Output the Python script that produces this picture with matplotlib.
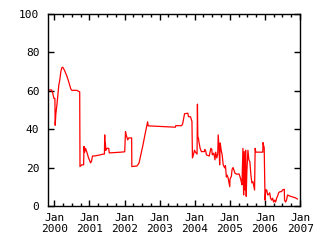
import matplotlib
matplotlib.use("Agg")
import matplotlib.pyplot as plt
import matplotlib.dates as mdates
import pandas as pd

dates = [
    "1999-10-28", "1999-12-05", "1999-12-16", "1999-12-29", "2000-01-08",
    "2000-01-11", "2000-01-18", "2000-01-29", "2000-02-08", "2000-02-18",
    "2000-02-28", "2000-03-10", "2000-03-20", "2000-03-30", "2000-04-15",
    "2000-05-11", "2000-05-31", "2000-06-21", "2000-07-01", "2000-08-22",
    "2000-09-22", "2000-09-25", "2000-10-12", "2000-11-02", "2000-11-05",
    "2000-11-12", "2000-11-22", "2000-12-02", "2000-12-23", "2001-01-13",
    "2001-01-23", "2001-02-02", "2001-02-23", "2001-04-15", "2001-05-26",
    "2001-06-06", "2001-06-09", "2001-06-12", "2001-06-16", "2001-06-21",
    "2001-06-26", "2001-07-06", "2001-07-21", "2001-07-26", "2001-11-24",
    "2002-01-03", "2002-01-11", "2002-01-18", "2002-02-03", "2002-02-13",
    "2002-03-16", "2002-03-18", "2002-05-11", "2002-06-01", "2002-06-21",
    "2002-07-12", "2002-08-01", "2002-08-22", "2002-08-29", "2002-09-04",
    "2003-06-14", "2003-06-17", "2003-08-17", "2003-08-28", "2003-09-17",
    "2003-10-21", "2003-10-28", "2003-11-18", "2003-11-28", "2003-12-03",
    "2003-12-08", "2003-12-18", "2003-12-29", "2004-01-08", "2004-01-25",
    "2004-01-29", "2004-02-02", "2004-02-08", "2004-02-13", "2004-02-26",
    "2004-03-10", "2004-04-10", "2004-04-15", "2004-04-25", "2004-05-01",
    "2004-05-31", "2004-06-16", "2004-06-26", "2004-07-01", "2004-07-17",
    "2004-07-29", "2004-08-06", "2004-08-17", "2004-08-27", "2004-09-01",
    "2004-09-11", "2004-09-16", "2004-09-22", "2004-10-02", "2004-10-12",
    "2004-10-23", "2004-11-07", "2004-11-15", "2004-11-25", "2004-12-03",
    "2004-12-13", "2004-12-30", "2005-01-02", "2005-01-16", "2005-01-23",
    "2005-02-02", "2005-02-23", "2005-03-15", "2005-04-05", "2005-04-15",
    "2005-04-25", "2005-05-06", "2005-05-16", "2005-05-23", "2005-05-29",
    "2005-06-06", "2005-06-13", "2005-06-19", "2005-06-26", "2005-07-07",
    "2005-07-17", "2005-07-27", "2005-08-07", "2005-08-17", "2005-08-28",
    "2005-09-07", "2005-09-14", "2005-09-20", "2005-09-27", "2005-12-08",
    "2005-12-11", "2005-12-18", "2005-12-23", "2006-01-01", "2006-01-08",
    "2006-01-18", "2006-01-29", "2006-02-08", "2006-02-18", "2006-02-28",
    "2006-03-11", "2006-03-21", "2006-03-31", "2006-04-11", "2006-04-21",
    "2006-05-01", "2006-05-12", "2006-05-22", "2006-06-01", "2006-06-22",
    "2006-07-02", "2006-07-20", "2006-07-23", "2006-08-02", "2006-08-12",
    "2006-08-23", "2006-09-12", "2006-10-13", "2006-11-13", "2006-12-03",
]
values = [
    60.4, 60.4, 58.8, 56.0, 56.0,
    42.0, 48.0, 52.6, 58.0, 63.0,
    65.6, 70.0, 72.0, 72.2, 70.8,
    67.7, 64.6, 61.0, 60.2, 60.2,
    59.4, 20.5, 21.4, 21.4, 31.0,
    28.0, 30.0, 28.5, 25.0, 22.4,
    23.4, 26.0, 26.0, 26.5, 27.0,
    27.0, 37.0, 29.0, 32.8, 29.0,
    29.7, 30.0, 30.0, 27.6, 28.0,
    28.2, 38.7, 37.0, 34.4, 35.4,
    35.4, 20.5, 20.8, 22.4, 27.0,
    31.8, 37.0, 42.0, 43.8, 41.7,
    41.0, 41.8, 41.8, 42.7, 48.0,
    48.3, 46.5, 46.4, 44.8, 44.0,
    25.0, 26.6, 29.0, 28.0, 27.0,
    53.0, 36.0, 35.4, 33.5, 30.0,
    28.3, 28.3, 29.5, 28.5, 26.6,
    26.0, 30.0, 29.5, 26.6, 27.5,
    24.0, 28.0, 25.0, 27.0, 37.0,
    29.0, 21.4, 32.8, 29.0, 26.6,
    21.4, 19.8, 21.0, 15.0, 16.0,
    14.6, 10.0, 14.0, 15.5, 19.0,
    20.0, 17.0, 16.5, 16.7, 15.3,
    13.5, 11.0, 30.0, 5.7, 28.3,
    8.3, 29.0, 5.0, 18.0, 29.0,
    24.0, 23.0, 16.0, 12.0, 12.7,
    10.0, 8.3, 30.0, 28.0, 28.0,
    33.0, 31.2, 30.5, 3.0, 8.3,
    8.3, 5.7, 6.0, 6.8, 4.0,
    3.0, 4.0, 2.0, 3.0, 2.0,
    4.0, 5.2, 6.8, 7.3, 7.5,
    8.3, 8.7, 3.0, 2.0, 3.0,
    5.7, 5.2, 4.7, 4.2, 3.6,
]

x = pd.to_datetime(dates)

plt.rcParams['font.family'] = ['DejaVu Sans Mono']
fig = plt.figure(figsize=(3.2, 2.4), dpi=100)
ax = fig.add_axes([0.149, 0.142, 0.789, 0.8])
ax.plot(x, values, color='#ff0000', linewidth=0.9)

ax.set_xlim(pd.Timestamp("1999-10-25"), pd.Timestamp("2007-01-01"))
ax.set_ylim(0, 100)
ax.set_yticks([0, 20, 40, 60, 80, 100])
ax.xaxis.set_major_locator(mdates.YearLocator())
ax.xaxis.set_minor_locator(mdates.MonthLocator(bymonth=[4, 7, 10]))
ax.xaxis.set_major_formatter(mdates.DateFormatter("%b\n%Y"))

ax.tick_params(which='both', direction='in', top=True, right=True,
               labelsize=8, width=1)
ax.tick_params(which='major', length=4)
ax.tick_params(which='minor', length=2.2)
ax.tick_params(axis='x', pad=5)
ax.tick_params(axis='y', pad=6)
for s in ax.spines.values():
    s.set_linewidth(1)

fig.savefig("out.png", dpi=100)
